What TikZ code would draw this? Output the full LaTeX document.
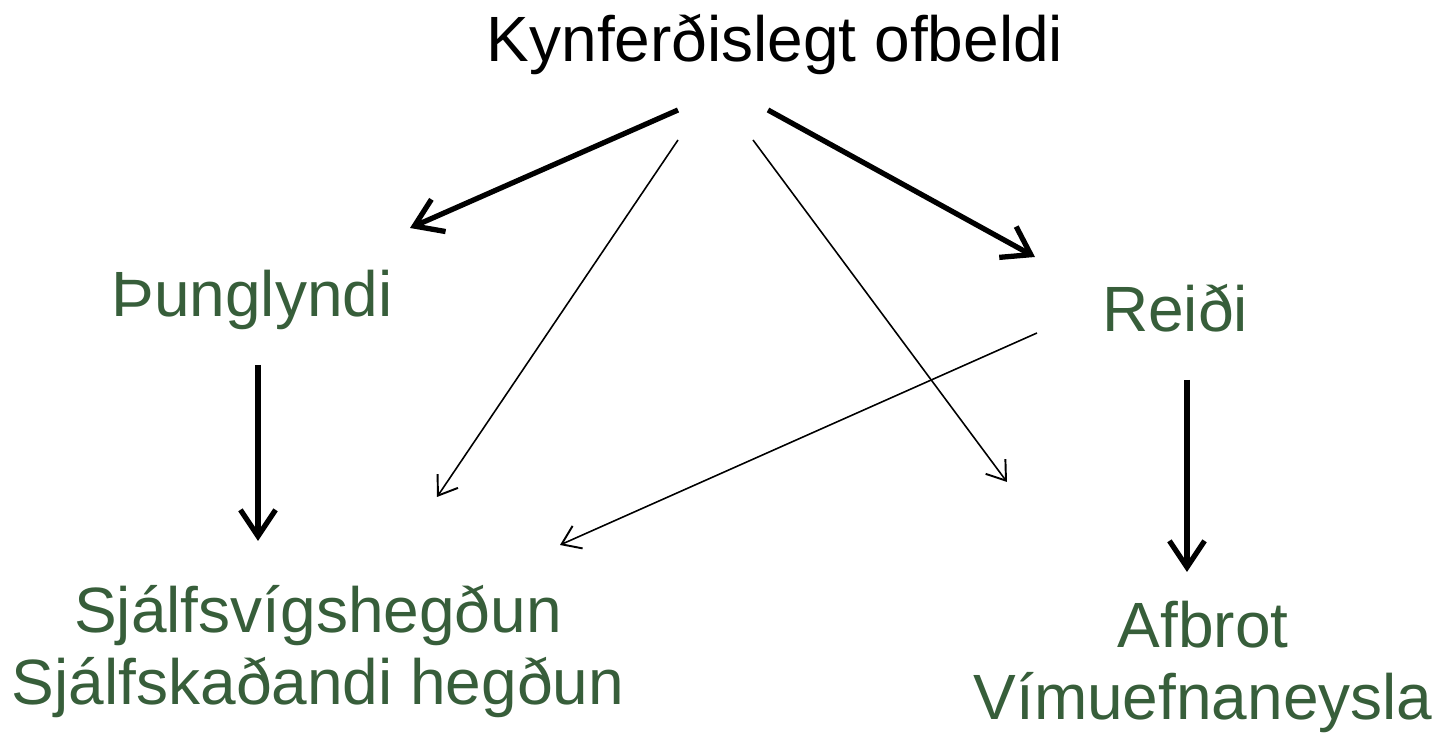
\documentclass[tikz,border=0pt]{standalone}
\usepackage{fontspec}
\setmainfont{Liberation Sans}
\usetikzlibrary{arrows.meta}
\definecolor{tgreen}{RGB}{55,94,58}
\tikzset{
  lbl/.style={anchor=base, inner sep=0pt, align=center, font=\fontsize{18.2}{20.5}\selectfont},
  glbl/.style={lbl, text=tgreen},
  thick arrow/.style={line width=1.5pt, -{Straight Barb[length=7.5pt,width=10pt,line width=1.5pt]}},
  thin arrow/.style={line width=0.45pt, -{Straight Barb[length=5pt,width=7pt,line width=0.55pt]}}
}
\begin{document}
\begin{tikzpicture}[x=0.01cm,y=-0.01cm]
\useasboundingbox (0,0) rectangle (1438,734);
\node[lbl] (ko) at (775,62) {Kynferðislegt ofbeldi};
\node[glbl] (th) at (252,317) {Þunglyndi};
\node[glbl] (re) at (1175,332) {Reiði};
\node[glbl] (sj) at (318,705) {Sjálfsvígshegðun\\Sjálfskaðandi hegðun};
\node[glbl] (af) at (1203,720) {Afbrot\\Vímuefnaneysla};
% coordinates for arrow ends
\coordinate (koA) at (678,110);
\coordinate (koB) at (768,110);
\coordinate (koC) at (678,140);
\coordinate (koD) at (753,140);
\coordinate (thIn) at (410,228);
\coordinate (reIn) at (1035,257);
\coordinate (thOut) at (258,365);
\coordinate (sjIn1) at (258,541);
\coordinate (sjIn2) at (437,497);
\coordinate (sjIn3) at (560,545);
\coordinate (reOut1) at (1037,333);
\coordinate (reOut2) at (1187,380);
\coordinate (afIn1) at (1187,572);
\coordinate (afIn2) at (1007,482);
\draw[thick arrow] (koA) -- (thIn);
\draw[thick arrow] (koB) -- (reIn);
\draw[thick arrow] (thOut) -- (sjIn1);
\draw[thick arrow] (reOut2) -- (afIn1);
\draw[thin arrow] (koC) -- (sjIn2);
\draw[thin arrow] (koD) -- (afIn2);
\draw[thin arrow] (reOut1) -- (sjIn3);
\end{tikzpicture}
\end{document}
